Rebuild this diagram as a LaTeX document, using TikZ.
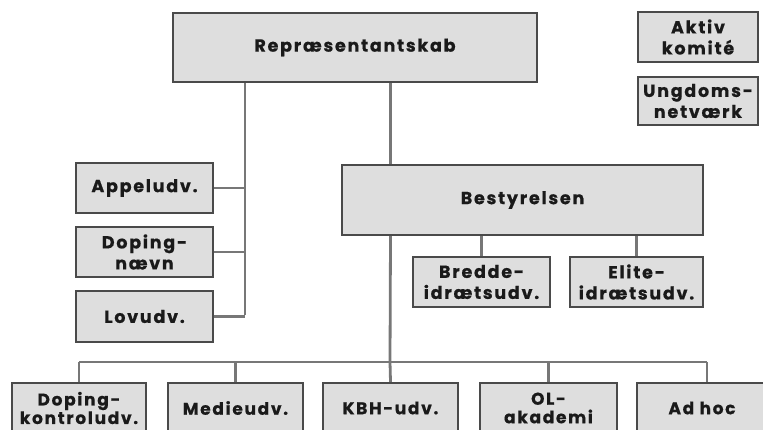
\documentclass[tikz,border=0pt]{standalone}
\usepackage{fontspec}
\setmainfont{Poppins}[LetterSpace=10, BoldFeatures={FakeBold=0.6}]
\definecolor{boxfill}{HTML}{DEDEDE}
\definecolor{boxline}{HTML}{4A4A4A}
\definecolor{conn}{HTML}{777777}
\definecolor{txt}{HTML}{1A1A1A}
\begin{document}
\begin{tikzpicture}[x=1pt,y=-1pt,
  orgbox/.style={draw=boxline, fill=boxfill, line width=2.2pt, align=center, inner sep=0pt,
    text=txt, font=\fontsize{17.5}{21}\selectfont\bfseries},
  lowbox/.style={orgbox, minimum height=50pt, font=\fontsize{17}{18.5}\selectfont\bfseries},
  link/.style={draw=conn, line width=2.8pt}]
\useasboundingbox (0,0) rectangle (763,430);
\clip (0,0) rectangle (763,430);
% nodes
\node[orgbox, minimum width=364pt, minimum height=69pt] (rep) at (355,47.5) {Repræsentantskab};
\node[orgbox, minimum width=120pt, minimum height=50pt] (aktiv) at (698,37) {Aktiv\\komité};
\node[orgbox, minimum width=120pt, minimum height=48pt] (ungdom) at (698,101) {Ungdoms-\\netværk};
\node[orgbox, minimum width=137pt, minimum height=50pt] (appel) at (144.5,188) {Appeludv.};
\node[orgbox, minimum width=137pt, minimum height=50pt] (dopn) at (144.5,252) {Doping-\\nævn};
\node[orgbox, minimum width=137pt, minimum height=51pt] (lov) at (144.5,316.5) {Lovudv.};
\node[orgbox, minimum width=361pt, minimum height=70pt] (best) at (522.5,200) {Bestyrelsen};
\node[orgbox, minimum width=137pt, minimum height=50pt] (bredde) at (481.5,282) {Bredde-\\idrætsudv.};
\node[orgbox, minimum width=133pt, minimum height=50pt] (elite) at (636.5,282) {Elite-\\idrætsudv.};
\node[lowbox, minimum width=134pt] (dk) at (79,408) {Doping-\\kontroludv.};
\node[lowbox, minimum width=135pt] (medie) at (235.5,408) {Medieudv.};
\node[lowbox, minimum width=135pt] (kbh) at (390.5,408) {KBH-udv.};
\node[lowbox, minimum width=137pt] (ol) at (548.5,408) {OL-\\akademi};
\node[lowbox, minimum width=130pt] (adhoc) at (702,408) {Ad hoc};
% connectors
\coordinate (lspine) at (245,315);
\coordinate (bus) at (390,362);
\draw[link] (rep.south -| lspine) -- (lspine);
\draw[link] (appel.east) -- (appel.east -| lspine);
\draw[link] (dopn.east) -- (dopn.east -| lspine);
\draw[link] (lov.east) -- (lov.east -| lspine);
\draw[link] (rep.south -| kbh) -- (best.north -| kbh);
\draw[link] (best.south -| kbh) -- (bus);
\draw[link] (best.south -| bredde) -- (bredde.north);
\draw[link] (best.south -| elite) -- (elite.north);
\draw[link] (dk.north |- bus) -- ([xshift=5pt]adhoc.north |- bus);
\draw[link] (dk.north |- bus) -- (dk.north);
\draw[link] (medie.north |- bus) -- (medie.north);
\draw[link] (bus) -- (kbh.north);
\draw[link] (ol.north |- bus) -- (ol.north);
\draw[link] ([xshift=5pt]adhoc.north |- bus) -- ([xshift=5pt]adhoc.north);
\end{tikzpicture}
\end{document}
